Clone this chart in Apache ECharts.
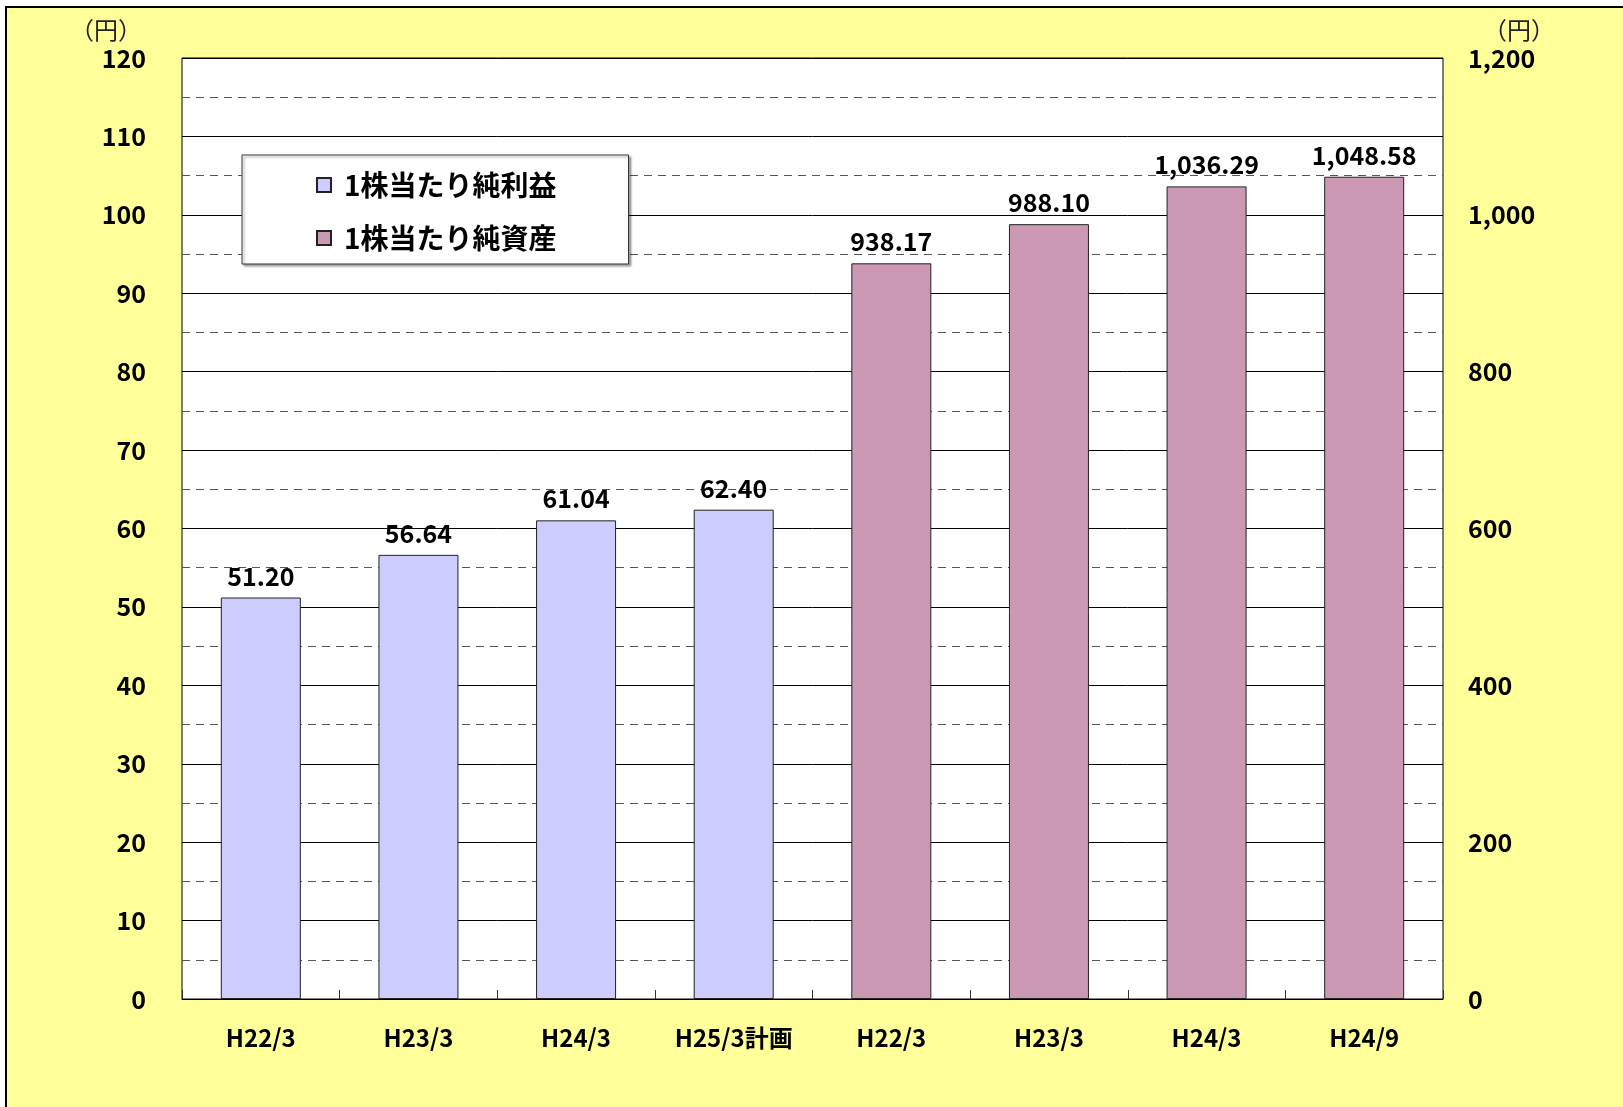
<!DOCTYPE html>
<html>
<head>
<meta charset="utf-8">
<script src="https://cdn.jsdelivr.net/npm/echarts@6/dist/echarts.min.js"></script>
<style>
  html, body { margin: 0; padding: 0; background: #fff; }
  #main { width: 1623px; height: 1107px; }
</style>
</head>
<body>
<div id="main"></div>
<script>
// 区分
var categories = ['H22/3', 'H23/3', 'H24/3', 'H25/3計画', 'H22/3', 'H23/3', 'H24/3', 'H24/9'];
// 1株当たり純利益 (左軸)
var epsValues = [51.20, 56.64, 61.04, 62.40, '-', '-', '-', '-'];
// 1株当たり純資産 (右軸)
var bpsValues = ['-', '-', '-', '-', 938.17, 988.10, 1036.29, 1048.58];

var FONT = '"Noto Sans CJK JP", "Noto Sans", sans-serif';

var chart = echarts.init(document.getElementById('main'));

function fmt(v) {
  return v.toFixed(2).replace(/\B(?=(\d{3})+(?!\d))/g, ',');
}

var labelStyle = {
  show: true,
  position: 'top',
  distance: 9,
  color: '#000',
  fontFamily: FONT,
  fontWeight: 'bold',
  fontSize: 25,
  formatter: function (p) { return fmt(p.value); }
};

chart.setOption({
  backgroundColor: '#fff',
  animation: false,
  textStyle: { fontFamily: FONT },
  graphic: [{
    type: 'rect',
    z: -10,
    shape: { x: 6, y: 7, width: 1700, height: 1200 },
    style: { fill: '#FFFF99', stroke: '#000', lineWidth: 2 }
  }],
  grid: {
    left: 182, right: 180, top: 58, bottom: 108,
    show: true,
    backgroundColor: '#fff',
    borderColor: '#000',
    borderWidth: 1
  },
  legend: {
    orient: 'vertical',
    left: 242,
    top: 155,
    padding: [16, 72, 12, 74],
    itemGap: 25,
    itemWidth: 14,
    itemHeight: 14,
    icon: 'rect',
    backgroundColor: '#fff',
    borderColor: '#333',
    borderWidth: 1,
    shadowColor: 'rgba(0,0,0,0.35)',
    shadowOffsetX: 2,
    shadowOffsetY: 2,
    shadowBlur: 2,
    textStyle: {
      fontFamily: FONT, fontWeight: 'bold', fontSize: 28, color: '#000',
      padding: [0, 0, 0, 8]
    },
    data: ['1株当たり純利益', '1株当たり純資産']
  },
  xAxis: {
    type: 'category',
    data: categories,
    axisLine: { lineStyle: { color: '#000', width: 1 } },
    axisTick: { show: true, inside: true, length: 9, lineStyle: { color: '#333' } },
    axisLabel: {
      margin: 27,
      color: '#000',
      fontFamily: FONT,
      fontWeight: 'bold',
      fontSize: 24,
      interval: 0
    }
  },
  yAxis: [{
    type: 'value',
    min: 0, max: 120, interval: 10,
    name: '（円）',
    nameLocation: 'end',
    nameGap: 16,
    nameTextStyle: {
      align: 'right',
      padding: [0, 40, 0, 0],
      color: '#222',
      fontFamily: FONT,
      fontSize: 24
    },
    axisLine: { show: false },
    axisTick: { show: false },
    axisLabel: { margin: 36, color: '#000', fontFamily: FONT, fontWeight: 'bold', fontSize: 25 },
    splitLine: { show: true, lineStyle: { color: '#000', width: 1 } },
    minorTick: { show: false, splitNumber: 2 },
    minorSplitLine: { show: true, lineStyle: { color: '#555', width: 1, type: [8, 6] } }
  }, {
    type: 'value',
    min: 0, max: 1200, interval: 200,
    name: '（円）',
    nameLocation: 'end',
    nameGap: 16,
    nameTextStyle: {
      align: 'left',
      padding: [0, 0, 0, 40],
      color: '#222',
      fontFamily: FONT,
      fontSize: 24
    },
    axisLine: { show: false },
    axisTick: { show: false },
    splitLine: { show: false },
    axisLabel: {
      margin: 25,
      color: '#000',
      fontFamily: FONT,
      fontWeight: 'bold',
      fontSize: 25,
      formatter: function (v) { return String(v).replace(/\B(?=(\d{3})+(?!\d))/g, ','); }
    }
  }],
  series: [{
    name: '1株当たり純利益',
    type: 'bar',
    yAxisIndex: 0,
    barWidth: 80,
    barGap: '-100%',
    data: epsValues,
    itemStyle: { color: '#CCCCFF', borderColor: '#222', borderWidth: 1 },
    label: labelStyle
  }, {
    name: '1株当たり純資産',
    type: 'bar',
    yAxisIndex: 1,
    barWidth: 80,
    barGap: '-100%',
    data: bpsValues,
    itemStyle: { color: '#CC99B4', borderColor: '#222', borderWidth: 1 },
    label: labelStyle
  }]
});
</script>
</body>
</html>
